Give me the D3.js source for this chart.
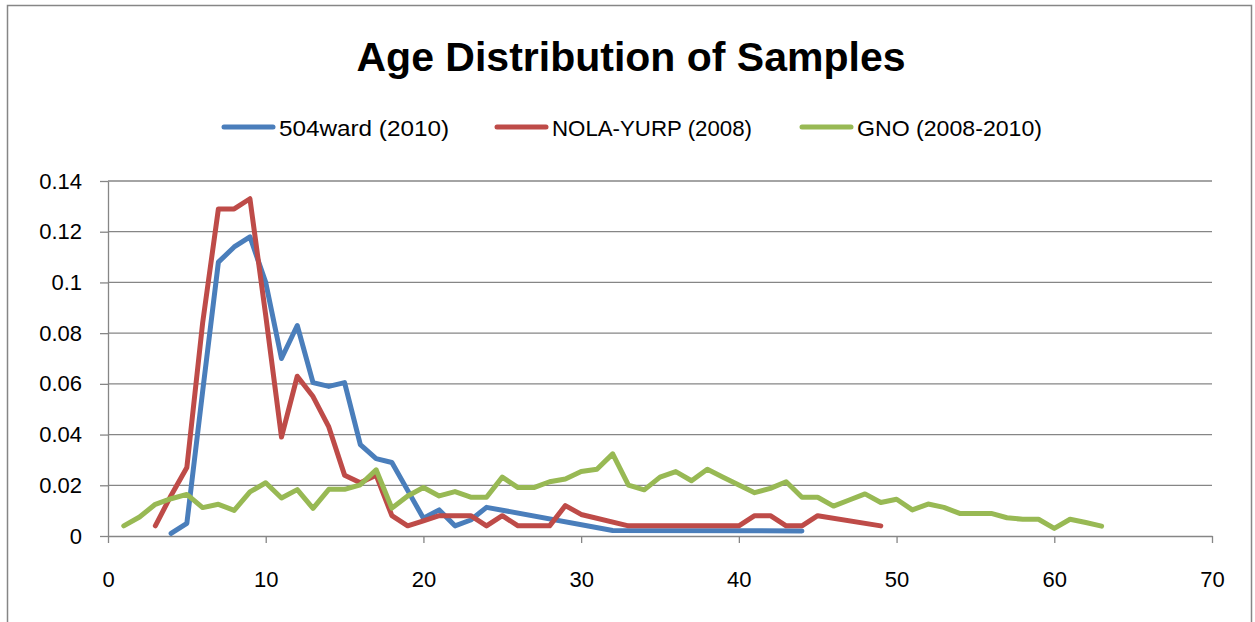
<!DOCTYPE html>
<html>
<head>
<meta charset="utf-8">
<script src="https://cdn.jsdelivr.net/npm/d3@7"></script>
<style>
  body { margin: 0; background: #fff; }
  svg { display: block; font-family: "Liberation Sans", Arial, sans-serif; }
  .axis path, .axis line { stroke: #868686; stroke-width: 1.3; }
  .axis text { font-size: 22px; fill: #000; }
</style>
</head>
<body>
<svg width="1255" height="622"></svg>
<script>
var title = 'Age Distribution of Samples'
var seriesNames = ['504ward (2010)', 'NOLA-YURP (2008)', 'GNO (2008-2010)']
var colors = ['#4a7ebb', '#be4b48', '#98b954']
var xTicks = [0, 10, 20, 30, 40, 50, 60, 70]
var yTicks = [0, 0.02, 0.04, 0.06, 0.08, 0.1, 0.12, 0.14]

// 504ward (2010)
var wardAge = [4, 5, 6, 7, 8, 9, 10, 11, 12, 13, 14, 15, 16, 17, 18, 19, 20, 21, 22, 23, 24, 32, 44]
var wardShare = [0.001, 0.005, 0.057, 0.108, 0.114, 0.118, 0.1, 0.07, 0.083, 0.0605, 0.059, 0.0605,
    0.036, 0.0305, 0.029, 0.018, 0.007, 0.0103, 0.004, 0.0063, 0.0113, 0.0022, 0.002]

// NOLA-YURP (2008)
var yurpAge = [3, 4, 5, 6, 7, 8, 9, 10, 11, 12, 13, 14, 15, 16, 17, 18, 19, 20, 21, 22, 23, 24, 25,
    26, 27, 28, 29, 30, 33, 40, 41, 42, 43, 44, 45, 49]
var yurpShare = [0.004, 0.016, 0.027, 0.084, 0.129, 0.129, 0.133, 0.087, 0.039, 0.063, 0.055, 0.043,
    0.024, 0.021, 0.024, 0.008, 0.004, 0.006, 0.008, 0.008, 0.008, 0.004, 0.008, 0.004, 0.004, 0.004,
    0.012, 0.0085, 0.004, 0.004, 0.008, 0.008, 0.004, 0.004, 0.008, 0.004]

// GNO (2008-2010)
var gnoAge = d3.range(1, 64)
var gnoShare = [0.004, 0.0075, 0.0125, 0.0147, 0.0164, 0.0112, 0.0125, 0.0101, 0.0174, 0.021,
    0.015, 0.0183, 0.0109, 0.0184, 0.0184, 0.0202, 0.0261, 0.011, 0.0158, 0.0191,
    0.0158, 0.0175, 0.0153, 0.0153, 0.0232, 0.0191, 0.0191, 0.0214, 0.0225, 0.0254,
    0.0263, 0.0324, 0.0201, 0.0182, 0.0232, 0.0254, 0.0218, 0.0263, 0.0232, 0.0201,
    0.0171, 0.0188, 0.0214, 0.0153, 0.0153, 0.0118, 0.0142, 0.0166, 0.0132, 0.0145,
    0.0103, 0.0126, 0.0113, 0.0089, 0.0089, 0.0089, 0.0072, 0.0066, 0.0066, 0.003,
    0.0066, 0.0053, 0.0039]

var series = [
    { name: seriesNames[0], color: colors[0], pts: d3.zip(wardAge, wardShare) },
    { name: seriesNames[1], color: colors[1], pts: d3.zip(yurpAge, yurpShare) },
    { name: seriesNames[2], color: colors[2], pts: d3.zip(gnoAge, gnoShare) },
]

var svg = d3.select('svg')

// chart frame (bottom edge is below the visible area)
svg.append('rect')
    .attr('x', 7.5).attr('y', 5.5)
    .attr('width', 1244).attr('height', 700)
    .attr('fill', '#fff')
    .attr('stroke', '#868686')
    .attr('stroke-width', 1.5)

var x = d3.scaleLinear().domain([0, 70]).range([108, 1212])
var y = d3.scaleLinear().domain([0, 0.14]).range([536, 181])

// gridlines
svg.append('g')
    .selectAll('line')
    .data(yTicks.slice(1))
    .enter()
    .append('line')
    .attr('x1', x(0)).attr('x2', x(70))
    .attr('y1', function (d) { return y(d); })
    .attr('y2', function (d) { return y(d); })
    .attr('stroke', '#868686')
    .attr('stroke-width', 1.3)

svg.append('g')
    .attr('class', 'axis')
    .attr('transform', 'translate(0,' + y(0) + ')')
    .call(d3.axisBottom(x).tickValues(xTicks).tickSize(7).tickPadding(28).tickSizeOuter(0))

svg.append('g')
    .attr('class', 'axis')
    .attr('transform', 'translate(' + x(0) + ',0)')
    .call(d3.axisLeft(y).tickValues(yTicks).tickSize(8).tickPadding(18).tickSizeOuter(0)
        .tickFormat(function (d) { return String(+d.toFixed(2)); }))

svg.selectAll('.axis .domain').attr('stroke', '#868686')

var line = d3.line()
    .x(function (d) { return x(d[0]); })
    .y(function (d) { return y(d[1]); })

svg.append('g')
    .selectAll('path')
    .data(series)
    .enter()
    .append('path')
    .attr('d', function (d) { return line(d.pts); })
    .attr('fill', 'none')
    .attr('stroke', function (d) { return d.color; })
    .attr('stroke-width', 5)
    .attr('stroke-linejoin', 'round')
    .attr('stroke-linecap', 'round')

// title
svg.append('text')
    .attr('x', 631).attr('y', 71)
    .attr('text-anchor', 'middle')
    .attr('font-size', 41)
    .attr('font-weight', 'bold')
    .text(title)

// legend
var legendX = [222, 495, 800]
var legendW = [170, 200, 185]
var legend = svg.append('g')
    .selectAll('g')
    .data(series)
    .enter()
    .append('g')
    .attr('transform', function (d, i) { return 'translate(' + legendX[i] + ',127)'; })

legend.append('line')
    .attr('x1', 2).attr('x2', 51)
    .attr('stroke', function (d) { return d.color; })
    .attr('stroke-width', 5)
    .attr('stroke-linecap', 'round')

legend.append('text')
    .attr('x', 57).attr('y', 8.5)
    .attr('font-size', 22)
    .attr('textLength', function (d, i) { return legendW[i]; })
    .attr('lengthAdjust', 'spacingAndGlyphs')
    .text(function (d) { return d.name; })
</script>
</body>
</html>
